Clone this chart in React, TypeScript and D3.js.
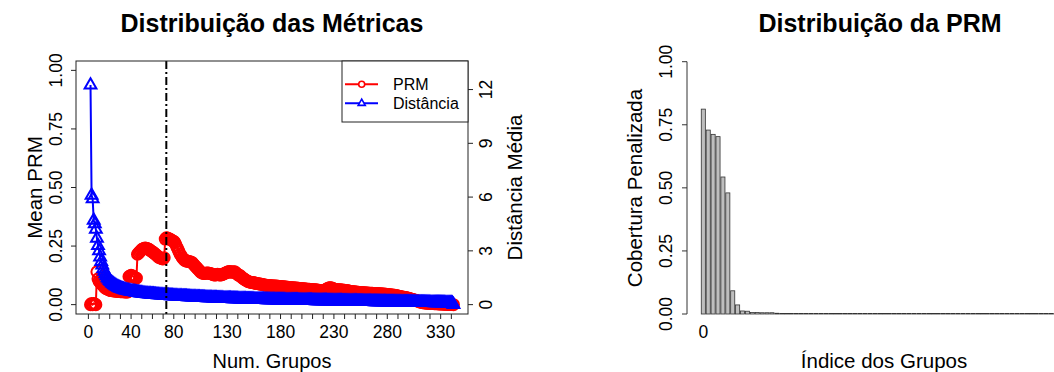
import React from 'react';
import * as d3 from 'd3';

// ---------- DATA ----------
const numGrupos: number[] = d3.range(2, 343); // x categories: 2..342

const prmValues: number[] = [
  0.0, 0.005, 0.0, 0.005, 0.003, 0.0, 0.14, 0.11, 0.1, 0.095,
  0.09, 0.085, 0.08, 0.075, 0.07, 0.068, 0.066, 0.064, 0.062, 0.06,
  0.06, 0.06, 0.058, 0.058, 0.057, 0.057, 0.056, 0.056, 0.055, 0.055,
  0.055, 0.055, 0.054, 0.054, 0.054, 0.054, 0.12, 0.122, 0.125, 0.123,
  0.12, 0.118, 0.115, 0.113, 0.215, 0.22, 0.225, 0.23, 0.235, 0.238,
  0.24, 0.242, 0.241, 0.24, 0.238, 0.235, 0.232, 0.228, 0.225, 0.222,
  0.218, 0.215, 0.21, 0.206, 0.202, 0.2, 0.198, 0.196, 0.195, 0.2,
  0.28, 0.285, 0.284, 0.282, 0.28, 0.278, 0.275, 0.272, 0.27, 0.265,
  0.255, 0.245, 0.235, 0.225, 0.215, 0.208, 0.2, 0.195, 0.19, 0.188,
  0.186, 0.185, 0.184, 0.183, 0.182, 0.18, 0.175, 0.17, 0.165, 0.16,
  0.155, 0.15, 0.145, 0.14, 0.136, 0.134, 0.133, 0.133, 0.134, 0.135,
  0.135, 0.134, 0.133, 0.132, 0.13, 0.128, 0.127, 0.127, 0.128, 0.13,
  0.128, 0.127, 0.127, 0.128, 0.13, 0.132, 0.134, 0.136, 0.138, 0.14,
  0.141, 0.14, 0.139, 0.138, 0.14, 0.14, 0.137, 0.132, 0.128, 0.125,
  0.124, 0.12, 0.115, 0.112, 0.109, 0.106, 0.103, 0.1, 0.098, 0.097,
  0.096, 0.095, 0.094, 0.093, 0.092, 0.091, 0.09, 0.089, 0.088, 0.088,
  0.087, 0.086, 0.085, 0.084, 0.083, 0.083, 0.082, 0.082, 0.081, 0.081,
  0.081, 0.08, 0.08, 0.079, 0.079, 0.078, 0.078, 0.077, 0.077, 0.076,
  0.076, 0.076, 0.075, 0.075, 0.074, 0.074, 0.073, 0.073, 0.072, 0.072,
  0.072, 0.071, 0.071, 0.071, 0.07, 0.07, 0.069, 0.069, 0.068, 0.068,
  0.068, 0.067, 0.067, 0.066, 0.066, 0.066, 0.065, 0.065, 0.064, 0.064,
  0.063, 0.063, 0.062, 0.061, 0.061, 0.06, 0.06, 0.059, 0.059, 0.059,
  0.062, 0.066, 0.069, 0.071, 0.072, 0.072, 0.071, 0.069, 0.067, 0.066,
  0.065, 0.064, 0.064, 0.063, 0.063, 0.062, 0.062, 0.061, 0.061, 0.06,
  0.06, 0.059, 0.058, 0.057, 0.056, 0.056, 0.055, 0.055, 0.054, 0.054,
  0.053, 0.053, 0.052, 0.052, 0.052, 0.051, 0.051, 0.051, 0.05, 0.05,
  0.05, 0.049, 0.049, 0.049, 0.049, 0.048, 0.048, 0.048, 0.047, 0.047,
  0.046, 0.046, 0.046, 0.045, 0.045, 0.045, 0.044, 0.044, 0.043, 0.043,
  0.042, 0.042, 0.041, 0.041, 0.04, 0.04, 0.039, 0.038, 0.037, 0.036,
  0.035, 0.034, 0.033, 0.032, 0.031, 0.03, 0.029, 0.028, 0.027, 0.026,
  0.024, 0.023, 0.022, 0.021, 0.019, 0.018, 0.016, 0.015, 0.013, 0.011,
  0.009, 0.008, 0.008, 0.007, 0.007, 0.006, 0.006, 0.006, 0.005, 0.005,
  0.005, 0.005, 0.004, 0.004, 0.004, 0.004, 0.003, 0.003, 0.003, 0.003,
  0.003, 0.002, 0.002, 0.002, 0.002, 0.002, 0.001, 0.001, 0.001, 0.001,
  0.0,
];

const distValues: number[] = [
  12.25, 6.1, 5.9, 4.7, 4.5, 4.2, 3.7, 3.3, 3.0, 2.65,
  2.4, 2.2, 2.0, 1.85, 1.72, 1.6, 1.5, 1.42, 1.34, 1.28,
  1.22, 1.17, 1.12, 1.08, 1.04, 1.0, 0.97, 0.94, 0.91, 0.89,
  0.87, 0.85, 0.83, 0.81, 0.8, 0.78, 0.77, 0.76, 0.74, 0.73,
  0.72, 0.71, 0.7, 0.69, 0.68, 0.67, 0.66, 0.65, 0.64, 0.63,
  0.62, 0.615, 0.61, 0.6, 0.595, 0.59, 0.585, 0.58, 0.575, 0.57,
  0.565, 0.56, 0.555, 0.55, 0.545, 0.54, 0.535, 0.53, 0.525, 0.52,
  0.515, 0.51, 0.505, 0.5, 0.497, 0.494, 0.49, 0.487, 0.484, 0.48,
  0.477, 0.474, 0.47, 0.467, 0.464, 0.46, 0.457, 0.454, 0.45, 0.447,
  0.444, 0.44, 0.437, 0.434, 0.43, 0.427, 0.424, 0.42, 0.417, 0.414,
  0.41, 0.407, 0.404, 0.4, 0.398, 0.395, 0.392, 0.39, 0.387, 0.385,
  0.382, 0.38, 0.377, 0.375, 0.372, 0.37, 0.367, 0.365, 0.362, 0.36,
  0.358, 0.355, 0.353, 0.35, 0.348, 0.346, 0.343, 0.341, 0.339, 0.337,
  0.335, 0.333, 0.331, 0.329, 0.327, 0.325, 0.323, 0.321, 0.319, 0.317,
  0.315, 0.313, 0.311, 0.309, 0.307, 0.305, 0.303, 0.301, 0.3, 0.298,
  0.296, 0.295, 0.293, 0.291, 0.29, 0.288, 0.286, 0.285, 0.283, 0.282,
  0.28, 0.279, 0.277, 0.276, 0.274, 0.273, 0.271, 0.27, 0.268, 0.267,
  0.265, 0.264, 0.263, 0.261, 0.26, 0.259, 0.257, 0.256, 0.255, 0.253,
  0.252, 0.251, 0.25, 0.248, 0.247, 0.246, 0.245, 0.243, 0.242, 0.241,
  0.24, 0.239, 0.237, 0.236, 0.235, 0.234, 0.233, 0.232, 0.23, 0.229,
  0.228, 0.227, 0.226, 0.225, 0.224, 0.223, 0.222, 0.221, 0.22, 0.219,
  0.218, 0.217, 0.216, 0.215, 0.214, 0.213, 0.212, 0.211, 0.21, 0.209,
  0.208, 0.207, 0.206, 0.205, 0.204, 0.203, 0.202, 0.201, 0.2, 0.199,
  0.198, 0.197, 0.196, 0.195, 0.194, 0.193, 0.192, 0.191, 0.19, 0.189,
  0.188, 0.187, 0.186, 0.185, 0.184, 0.183, 0.182, 0.181, 0.18, 0.179,
  0.178, 0.177, 0.176, 0.175, 0.174, 0.173, 0.172, 0.171, 0.17, 0.169,
  0.168, 0.167, 0.166, 0.165, 0.164, 0.163, 0.162, 0.161, 0.16, 0.159,
  0.158, 0.157, 0.156, 0.155, 0.154, 0.153, 0.152, 0.151, 0.15, 0.149,
  0.148, 0.147, 0.146, 0.145, 0.144, 0.143, 0.142, 0.141, 0.14, 0.139,
  0.138, 0.137, 0.136, 0.135, 0.134, 0.133, 0.132, 0.131, 0.13, 0.129,
  0.128, 0.127, 0.126, 0.125, 0.124, 0.123, 0.122, 0.121, 0.12, 0.119,
  0.118, 0.117, 0.116, 0.115, 0.114, 0.113, 0.112, 0.111, 0.11, 0.109,
  0.108, 0.107, 0.106, 0.105, 0.104, 0.103, 0.102, 0.101, 0.1, 0.099,
  0.098, 0.097, 0.096, 0.095, 0.094, 0.093, 0.092, 0.091, 0.09, 0.08,
  0.0,
];

const chosenK = 73;
const xTickMarks: number[] = [0, 10, 20, 30, 40, 50, 60, 70, 80, 90, 100, 110, 120, 130, 140, 150, 160, 170, 180, 190, 200, 210, 220, 230, 240, 250, 260, 270, 280, 290, 300, 310, 320, 330, 340];
const xTickLabels: number[] = [0, 40, 80, 130, 180, 230, 280, 330];
const leftTicks: number[] = [0, 0.25, 0.5, 0.75, 1];
const rightTicks: number[] = [0, 3, 6, 9, 12];
const distMax = 13.07;

const barValues: number[] = [
  0.812, 0.729, 0.712, 0.703, 0.543, 0.48, 0.092, 0.036, 0.012, 0.011,
  0.006, 0.006, 0.005, 0.005, 0.005, 0.003, 0.002, 0.002, 0.002, 0.002,
  0.002, 0.002, 0.002, 0.002, 0.002, 0.002, 0.002, 0.002, 0.002, 0.002,
  0.002, 0.002, 0.002, 0.002, 0.002, 0.002, 0.002, 0.002, 0.002, 0.002,
  0.002, 0.002, 0.002, 0.002, 0.002, 0.002, 0.002, 0.002, 0.002, 0.002,
  0.002, 0.002, 0.002, 0.002, 0.002, 0.002, 0.002, 0.002, 0.002, 0.002,
  0.002, 0.002, 0.002, 0.002, 0.002, 0.002, 0.002, 0.002, 0.002, 0.002,
  0.002, 0.002, 0.002,
];
const barTicks: number[] = [0, 0.25, 0.5, 0.75, 1];
const barTickLabels: string[] = ['0.00', '0.25', '0.50', '0.75', '1.00'];

const FONT = '"Liberation Sans", Arial, Helvetica, sans-serif';
const RED = '#FF0000';
const BLUE = '#0000FF';

export default function App() {
  // Left panel geometry
  const L = { left: 76, right: 468, top: 61, bottom: 314 };
  const span = 342 - 2;
  const x = d3.scaleLinear().domain([2 - 0.04 * span, 342 + 0.04 * span]).range([L.left, L.right]);
  const yL = d3.scaleLinear().domain([-0.04, 1.04]).range([L.bottom, L.top]);
  const yR = d3.scaleLinear().domain([-0.04 * distMax, 1.04 * distMax]).range([L.bottom, L.top]);

  const prmPts = numGrupos.map((g, i) => [x(g), yL(prmValues[i])] as [number, number]);
  const distPts = numGrupos.map((g, i) => [x(g), yR(distValues[i])] as [number, number]);
  const line = d3.line();
  const tri = (cx: number, cy: number, s = 1) =>
    `M${cx},${cy - 6.8 * s}L${cx + 5.9 * s},${cy + 3.4 * s}L${cx - 5.9 * s},${cy + 3.4 * s}Z`;

  // Right panel geometry
  const n = barValues.length;
  const bSpan = 1.2 * n - 0.2;
  const xB = d3.scaleLinear().domain([0.2 - 0.04 * bSpan, 1.2 * n + 0.04 * bSpan]).range([687, 1072.4]);
  const yB = d3.scaleLinear().domain([-0.04, 1.04]).range([324.1, 51.6]);

  const fmt = d3.format('.2f');

  return (
    <svg width={1054} height={372} style={{ position: 'absolute', left: 0, top: 0, display: 'block', background: '#fff' }} fontFamily={FONT}>
      <rect x={0} y={0} width={1054} height={372} fill="#fff" />
      <defs>
        <clipPath id="clipL">
          <rect x={L.left} y={L.top} width={L.right - L.left} height={L.bottom - L.top} />
        </clipPath>
      </defs>

      {/* Titles */}
      <text x={272} y={32} fontSize={25} fontWeight="bold" textAnchor="middle">Distribuição das Métricas</text>
      <text x={880} y={32} fontSize={25} fontWeight="bold" textAnchor="middle">Distribuição da PRM</text>

      {/* Left panel data */}
      <g clipPath="url(#clipL)">
        <path d={line(prmPts) || ''} fill="none" stroke={RED} strokeWidth={2} />
        {prmPts.map((p, i) => (
          <circle key={'c' + i} cx={p[0]} cy={p[1]} r={5.5} fill="none" stroke={RED} strokeWidth={2} />
        ))}
        <path d={line(distPts) || ''} fill="none" stroke={BLUE} strokeWidth={2} />
        {distPts.map((p, i) => (
          <path key={'t' + i} d={tri(p[0], p[1])} fill="none" stroke={BLUE} strokeWidth={2} />
        ))}
        <line x1={x(chosenK)} x2={x(chosenK)} y1={L.top} y2={L.bottom} stroke="#000" strokeWidth={2} strokeDasharray="8,3,2,3" />
      </g>

      {/* Left panel box */}
      <rect x={L.left} y={L.top} width={L.right - L.left} height={L.bottom - L.top} fill="none" stroke="#222" strokeWidth={1} />

      {/* x axis ticks */}
      {xTickMarks.map((t) => (
        <line key={'xt' + t} x1={x(t)} x2={x(t)} y1={L.bottom} y2={L.bottom + 5} stroke="#222" strokeWidth={1} />
      ))}
      {xTickLabels.map((t) => (
        <text key={'xl' + t} x={x(t)} y={338} fontSize={17.5} textAnchor="middle">{t}</text>
      ))}
      <text x={272} y={368} fontSize={20} textAnchor="middle">Num. Grupos</text>

      {/* left y axis */}
      {leftTicks.map((t) => (
        <g key={'yl' + t}>
          <line x1={L.left - 5} x2={L.left} y1={yL(t)} y2={yL(t)} stroke="#222" strokeWidth={1} />
          <text transform={`translate(61.5,${yL(t)}) rotate(-90)`} fontSize={17.5} textAnchor="middle">{fmt(t)}</text>
        </g>
      ))}
      <text transform={`translate(41.5,${(L.top + L.bottom) / 2}) rotate(-90)`} fontSize={20.5} textAnchor="middle">Mean PRM</text>

      {/* right y axis */}
      {rightTicks.map((t) => (
        <g key={'yr' + t}>
          <line x1={L.right} x2={L.right + 5} y1={yR(t)} y2={yR(t)} stroke="#222" strokeWidth={1} />
          <text transform={`translate(491.5,${yR(t)}) rotate(-90)`} fontSize={17.5} textAnchor="middle">{t}</text>
        </g>
      ))}
      <text transform={`translate(521.5,${(L.top + L.bottom) / 2}) rotate(-90)`} fontSize={20.5} textAnchor="middle">Distância Média</text>

      {/* Legend */}
      <g>
        <rect x={342} y={L.top} width={L.right - 342} height={61} fill="#fff" stroke="#222" strokeWidth={1} />
        <line x1={345} x2={378} y1={84.3} y2={84.3} stroke={RED} strokeWidth={2} />
        <circle cx={361.7} cy={84.3} r={3} fill="#fff" stroke={RED} strokeWidth={1.6} />
        <text x={393} y={89.5} fontSize={16}>PRM</text>
        <line x1={345} x2={378} y1={103.3} y2={103.3} stroke={BLUE} strokeWidth={2} />
        <path d={tri(361.7, 103.3, 0.6)} fill="#fff" stroke={BLUE} strokeWidth={1.6} />
        <text x={393} y={108.5} fontSize={16}>Distância</text>
      </g>

      {/* Right panel bars */}
      {barValues.map((v, i) => {
        const x0 = xB(0.2 + 1.2 * i);
        const x1 = xB(1.2 + 1.2 * i);
        return (
          <rect key={'b' + i} x={x0} y={yB(v)} width={x1 - x0} height={yB(0) - yB(v)} fill="#BEBEBE" stroke="#333" strokeWidth={0.8} />
        );
      })}
      {/* Right panel y axis */}
      <line x1={687} x2={687} y1={yB(0)} y2={yB(1)} stroke="#333" strokeWidth={1} />
      {barTicks.map((t, i) => (
        <g key={'by' + t}>
          <line x1={682} x2={687} y1={yB(t)} y2={yB(t)} stroke="#333" strokeWidth={1} />
          <text transform={`translate(671.7,${yB(t)}) rotate(-90)`} fontSize={17.5} textAnchor="middle">{barTickLabels[i]}</text>
        </g>
      ))}
      <text transform={`translate(641.7,188) rotate(-90)`} fontSize={20.5} textAnchor="middle">Cobertura Penalizada</text>
      <text x={xB(0.7)} y={338} fontSize={17.5} textAnchor="middle">0</text>
      <text x={884} y={368} fontSize={20.5} textAnchor="middle">Índice dos Grupos</text>
    </svg>
  );
}
